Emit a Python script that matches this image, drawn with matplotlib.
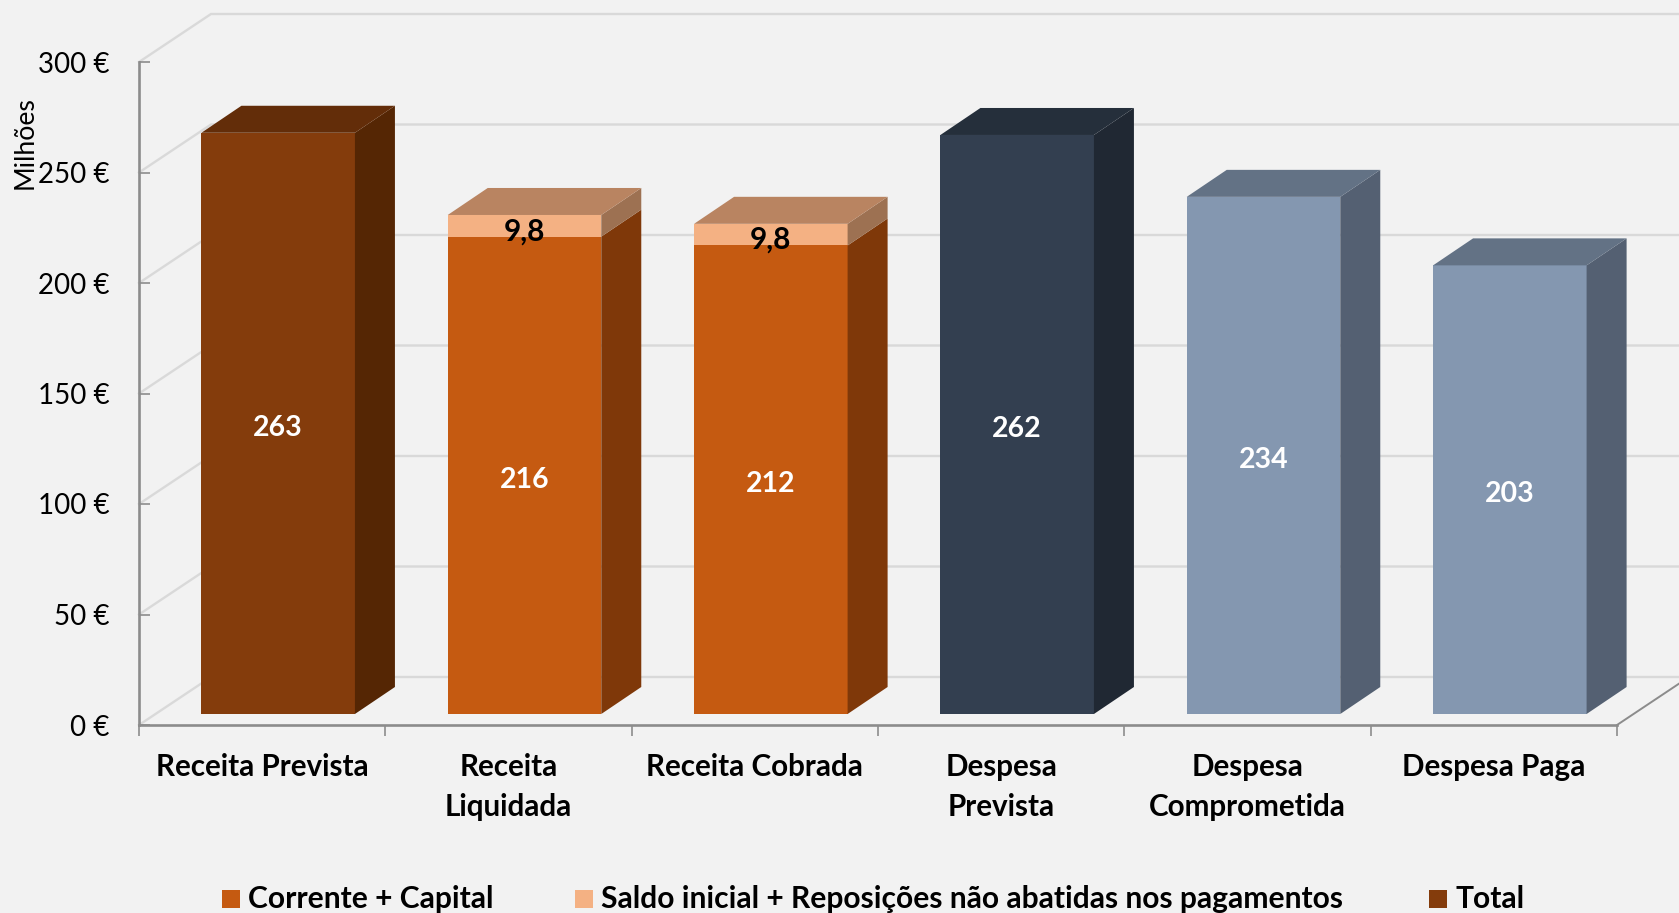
import matplotlib
matplotlib.use('Agg')
import matplotlib.pyplot as plt
from matplotlib.patches import Rectangle

W, H = 1679, 913

categories = ['Receita Prevista', 'Receita\nLiquidada', 'Receita Cobrada',
              'Despesa\nPrevista', 'Despesa\nComprometida', 'Despesa Paga']
corrente = [0, 216, 212, 0, 0, 0]
saldo = [0, 9.8, 9.8, 0, 0, 0]
total = [263, 0, 0, 0, 0, 0]
despesa = [0, 0, 0, 262, 234, 203]
yticks = [0, 50, 100, 150, 200, 250, 300]
legend_labels = ['Corrente + Capital', 'Saldo inicial + Reposições não abatidas nos pagamentos', 'Total']

# face colours: front, top, side
BROWN = ('#843c0c', '#632d09', '#552604')
ORANGE = ('#c55a11', '#b98461', '#7f3809')
LIGHT = ('#f4b183', '#b98461', '#9d7152')
DARK = ('#333f50', '#252f3b', '#202833')
BLUE = ('#8497b0', '#637285', '#546072')
despesa_colors = [None, None, None, DARK, BLUE, BLUE]

# fake 3d offsets in data units
WALL_DX, WALL_DY = 72 / 246.3, 48 / 2.21
BAR_DX, BAR_DY = 40 / 246.3, 27 / 2.21
FLOOR_DX, FLOOR_DY = 16 / 246.3, 11 / 2.21
BAR_W = 153.5 / 246.3
LABEL_DROP = -2.0  # value labels sit a little under the middle of the face

plt.rcParams['font.family'] = ['Lato', 'DejaVu Sans']

fig = plt.figure(figsize=(W / 100, H / 100), dpi=100, facecolor='#f2f2f2')
ax = fig.add_axes([139 / W, 1 - 725 / H, (1617 - 139) / W, (725 - 62) / H])
ax.set_facecolor('none')
ax.set_xlim(0, 6)
ax.set_ylim(0, 300)
for s in ('top', 'right'):
    ax.spines[s].set_visible(False)
for s in ('left', 'bottom'):
    ax.spines[s].set_color('#8c8c8c')
    ax.spines[s].set_linewidth(1.9)

# walls
for v in yticks:
    ax.plot([0, WALL_DX, 6 + WALL_DX], [v, v + WALL_DY, v + WALL_DY], color='#d9d9d9', lw=1.7,
            clip_on=False, zorder=1, solid_joinstyle='miter')
ax.plot([6, 6 + WALL_DX], [0, WALL_DY], color='#8c8c8c', lw=1.4, clip_on=False, zorder=1)


def draw_box(x, bottom, height, colors, top_face=True):
    left = x - BAR_W / 2
    right = x + BAR_W / 2
    y0 = bottom + FLOOR_DY
    y1 = y0 + height
    ax.bar(x, height, BAR_W, bottom=y0, color=colors[0], zorder=3, clip_on=False)
    ax.fill([right, right + BAR_DX, right + BAR_DX, right],
            [y0, y0 + BAR_DY, y1 + BAR_DY, y1], color=colors[2], lw=0, zorder=3, clip_on=False)
    if top_face:
        ax.fill([left, left + BAR_DX, right + BAR_DX, right],
                [y1, y1 + BAR_DY, y1 + BAR_DY, y1], color=colors[1], lw=0, zorder=3, clip_on=False)


def value_label(x, y, txt, color='white', size=20.5):
    ax.text(x, y + LABEL_DROP, txt, color=color, fontsize=size, fontweight='bold',
            ha='center', va='center', zorder=5)


for i in range(len(categories)):
    x = i + 0.5 + FLOOR_DX
    if total[i]:
        draw_box(x, 0, total[i], BROWN)
        value_label(x, FLOOR_DY + total[i] / 2, str(total[i]))
    if corrente[i]:
        draw_box(x, 0, corrente[i], ORANGE, top_face=False)
        draw_box(x, corrente[i], saldo[i], LIGHT)
        value_label(x, FLOOR_DY + corrente[i] / 2, str(corrente[i]))
        value_label(x, FLOOR_DY + corrente[i] + saldo[i] / 2 - 0.4, str(saldo[i]).replace('.', ','),
                    color='black', size=21.5)
    if despesa[i]:
        draw_box(x, 0, despesa[i], despesa_colors[i])
        value_label(x, FLOOR_DY + despesa[i] / 2, str(despesa[i]))

ax.set_yticks(yticks)
ax.set_yticklabels(['%d €' % v for v in yticks], fontsize=20)
for lab in ax.get_yticklabels():
    lab.set_y(lab.get_position()[1])
ax.tick_params(axis='y', direction='in', length=8, width=1.2, color='#8c8c8c', pad=21.5)
ax.set_xticks(range(7))
ax.set_xticklabels([])
ax.tick_params(axis='x', direction='out', length=8, width=1.2, color='#8c8c8c')

for i, name in enumerate(categories):
    ax.annotate(name, (i + 0.5, 0), xytext=(0, -20.5), textcoords='offset points',
                ha='center', va='top', fontsize=21.3, fontweight='bold', linespacing=1.5)

fig.text(25 / W, 1 - 143 / H, 'Milhões', rotation=90, fontsize=19.2, ha='center', va='center')

# legend
squares = [222, 575, 1429]
legend_colors = [ORANGE[0], LIGHT[0], BROWN[0]]
for sx, name, c in zip(squares, legend_labels, legend_colors):
    fig.patches.append(Rectangle((sx / W, 1 - 908 / H), 18 / W, 18 / H, transform=fig.transFigure,
                                 facecolor=c, edgecolor='none'))
    fig.text((sx + 26) / W, 1 - 899 / H, name, fontsize=21.6, fontweight='bold', ha='left', va='center')

fig.savefig('out.png', dpi=100, facecolor=fig.get_facecolor())
